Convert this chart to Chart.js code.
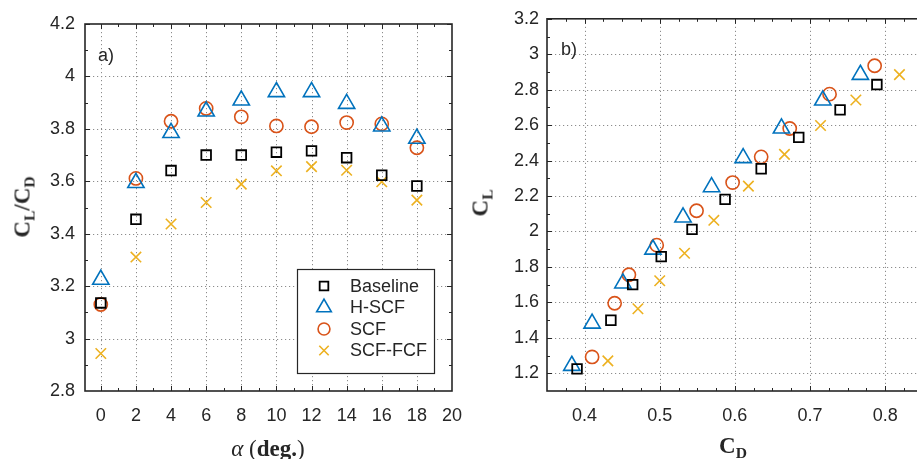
<!DOCTYPE html>
<html>
<head>
<meta charset="utf-8">
<script src="https://cdn.jsdelivr.net/npm/chart.js@4.4.0/dist/chart.umd.min.js"></script>
<style>
html, body { margin: 0; padding: 0; background: #fff; }
#wrap { position: relative; width: 917px; height: 459px; overflow: hidden; }
canvas { position: absolute; top: 0; }
#chartA { left: 0; }
#chartB { left: 470px; }
.lbl { position: absolute; transform: translate(-50%, -50%); color: #262626; white-space: nowrap;
       font-family: "Liberation Serif", "DejaVu Serif", serif; font-weight: bold; font-size: 23px; line-height: 1; }
.rot { transform: translate(-50%, -50%) rotate(-90deg); }
.sub { font-size: 68%; position: relative; top: 0.32em; }
.tag { position: absolute; font-family: "Liberation Sans", Arial, sans-serif; font-size: 18px; color: #262626; line-height: 1; }
</style>
</head>
<body>
<div id="wrap">
  <canvas id="chartA" width="480" height="459"></canvas>
  <canvas id="chartB" width="470" height="459"></canvas>
  <div class="tag" style="left:98px;top:46px">a)</div>
  <div class="tag" style="left:561px;top:40px">b)</div>
  <div class="lbl rot" style="left:22px;top:207px">C<span class="sub">L</span>/C<span class="sub">D</span></div>
  <div class="lbl" style="left:268px;top:448px"><i style="font-weight:normal">α</i> <span style="font-weight:normal">(</span>deg.<span style="font-weight:normal">)</span></div>
  <div class="lbl rot" style="left:480px;top:203px">C<span class="sub">L</span></div>
  <div class="lbl" style="left:733px;top:445px">C<span class="sub">D</span></div>
</div>
<script>
/* [ Data ] */
const ALPHA   = [0, 2, 4, 6, 8, 10, 12, 14, 16, 18];
const LD_BASE = [3.136, 3.455, 3.641, 3.700, 3.700, 3.711, 3.716, 3.690, 3.623, 3.582];
const LD_HSCF = [3.225, 3.594, 3.785, 3.867, 3.909, 3.941, 3.941, 3.896, 3.810, 3.763];
const LD_SCF  = [3.130, 3.611, 3.829, 3.878, 3.846, 3.811, 3.808, 3.824, 3.819, 3.728];
const LD_FCF  = [2.943, 3.311, 3.437, 3.519, 3.589, 3.640, 3.656, 3.642, 3.598, 3.528];

const CD_BASE = [0.390, 0.435, 0.464, 0.502, 0.543, 0.587, 0.635, 0.685, 0.740, 0.789];
const CL_BASE = [1.225, 1.499, 1.700, 1.858, 2.012, 2.181, 2.354, 2.531, 2.686, 2.829];
const CD_HSCF = [0.383, 0.410, 0.451, 0.491, 0.531, 0.569, 0.611, 0.662, 0.717, 0.767];
const CL_HSCF = [1.243, 1.481, 1.708, 1.899, 2.080, 2.251, 2.415, 2.582, 2.740, 2.885];
const CD_SCF  = [0.410, 0.440, 0.459, 0.496, 0.549, 0.597, 0.635, 0.673, 0.726, 0.786];
const CL_SCF  = [1.292, 1.595, 1.756, 1.923, 2.117, 2.276, 2.421, 2.581, 2.775, 2.935];
const CD_FCF  = [0.431, 0.471, 0.500, 0.533, 0.572, 0.618, 0.666, 0.714, 0.761, 0.819];
const CL_FCF  = [1.270, 1.564, 1.722, 1.877, 2.063, 2.256, 2.435, 2.598, 2.742, 2.885];

const SERIES = ['Baseline', 'H-SCF', 'SCF', 'SCF-FCF'];

/* [ Ticks ] */
const XTICKS_A = [0, 2, 4, 6, 8, 10, 12, 14, 16, 18, 20];
const YTICKS_A = [2.8, 3, 3.2, 3.4, 3.6, 3.8, 4, 4.2];
const XTICKS_B = [0.4, 0.5, 0.6, 0.7, 0.8];
const YTICKS_B = [1.2, 1.4, 1.6, 1.8, 2, 2.2, 2.4, 2.6, 2.8, 3, 3.2];

function range(a, b, s) {
    var out = [];
    for (var v = a; v <= b + 1e-9; v += s) out.push(Math.round(v * 1000) / 1000);
    return out;
}

const INK = '#262626';
const STYLES = [
    { color: '#000000', pointStyle: 'rect', radius: 6.8, width: 1.8 },
    { color: '#0072BD', pointStyle: 'triangle', radius: 9.4, width: 1.6 },
    { color: '#D95319', pointStyle: 'circle', radius: 6.6, width: 1.6 },
    { color: '#EDB120', pointStyle: 'crossRot', radius: 7.4, width: 1.6 }
];

function makeSets(xs, ys) {
    return SERIES.map(function (name, i) {
        var st = STYLES[i];
        return {
            label: name,
            data: xs[i].map(function (x, j) { return { x: x, y: ys[i][j] }; }),
            pointStyle: st.pointStyle,
            pointRadius: st.radius,
            pointHoverRadius: st.radius,
            pointBorderColor: st.color,
            pointBackgroundColor: 'rgba(0,0,0,0)',
            pointBorderWidth: st.width,
            showLine: false,
            clip: false
        };
    });
}

/* [ Grid, frame, inward ticks ] */
const frame = {
    id: 'frame',
    beforeDatasetsDraw(chart, args, o) {
        var ctx = chart.ctx, a = chart.chartArea;
        var xs = chart.scales.x, ys = chart.scales.y;
        ctx.save();
        // dotted grid at major ticks
        ctx.strokeStyle = '#8c8c8c';
        ctx.lineWidth = 1;
        ctx.setLineDash([1.2, 2.8]);
        ctx.beginPath();
        o.xMajor.forEach(function (v) {
            var px = Math.round(xs.getPixelForValue(v)) + 0.5;
            if (px <= a.left + 1 || px >= a.right - 1) return;
            ctx.moveTo(px, a.top); ctx.lineTo(px, a.bottom);
        });
        o.yMajor.forEach(function (v) {
            var py = Math.round(ys.getPixelForValue(v)) + 0.5;
            if (py <= a.top + 1 || py >= a.bottom - 1) return;
            ctx.moveTo(a.left, py); ctx.lineTo(a.right, py);
        });
        ctx.stroke();
        ctx.setLineDash([]);

        ctx.strokeStyle = INK;
        ctx.beginPath();
        function xt(list, len) {
            list.forEach(function (v) {
                var px = Math.round(xs.getPixelForValue(v)) + 0.5;
                if (px < a.left || px > a.right) return;
                ctx.moveTo(px, a.bottom); ctx.lineTo(px, a.bottom - len);
                ctx.moveTo(px, a.top); ctx.lineTo(px, a.top + len);
            });
        }
        function yt(list, len) {
            list.forEach(function (v) {
                var py = Math.round(ys.getPixelForValue(v)) + 0.5;
                if (py < a.top || py > a.bottom) return;
                ctx.moveTo(a.left, py); ctx.lineTo(a.left + len, py);
                ctx.moveTo(a.right, py); ctx.lineTo(a.right - len, py);
            });
        }
        xt(o.xMajor, 5); xt(o.xMinor, 3);
        yt(o.yMajor, 5); yt(o.yMinor, 3);
        ctx.stroke();
        ctx.lineWidth = 1.6;
        ctx.strokeRect(a.left, a.top, a.right - a.left, a.bottom - a.top);
        ctx.restore();
    }
};

/* [ Legend box ] */
const legendBox = {
    id: 'legendBox',
    afterDatasetsDraw(chart, args, o) {
        if (!o.show) return;
        var ctx = chart.ctx;
        ctx.save();
        ctx.fillStyle = '#fff';
        ctx.fillRect(o.x, o.y, o.w, o.h);
        ctx.strokeStyle = INK;
        ctx.lineWidth = 1.2;
        ctx.strokeRect(o.x + 0.5, o.y + 0.5, o.w, o.h);
        chart.data.datasets.forEach(function (ds, i) {
            var cy = o.y + o.first + i * o.gap;
            ctx.strokeStyle = ds.pointBorderColor;
            ctx.fillStyle = 'rgba(0,0,0,0)';
            ctx.lineWidth = ds.pointBorderWidth;
            Chart.helpers.drawPoint(ctx, {
                pointStyle: ds.pointStyle, radius: ds.pointRadius * 0.9,
                borderWidth: ds.pointBorderWidth, rotation: 0
            }, o.mx, cy);
            ctx.fillStyle = INK;
            ctx.font = '18px "Liberation Sans", Arial, sans-serif';
            ctx.textBaseline = 'middle';
            ctx.textAlign = 'left';
            ctx.fillText(ds.label, o.tx, cy + 1);
        });
        ctx.restore();
    }
};

function fmt(v) { return String(Math.round(v * 100) / 100); }

function axis(min, max, ticks, pad, fit) {
    return {
        type: 'linear',
        min: min, max: max,
        afterBuildTicks: function (s) { s.ticks = ticks.map(function (v) { return { value: v }; }); },
        afterFit: fit,
        grid: { display: false, drawTicks: false },
        border: { display: false },
        ticks: {
            padding: pad, color: INK, callback: fmt,
            font: { family: '"Liberation Sans", Arial, sans-serif', size: 18 },
            maxRotation: 0, autoSkip: false
        }
    };
}

function baseOpts(xAxis, yAxis, pad, frameOpts, legendOpts) {
    return {
        responsive: false,
        animation: false,
        events: [],
        layout: { padding: pad },
        scales: { x: xAxis, y: yAxis },
        plugins: {
            legend: { display: false },
            tooltip: { enabled: false },
            frame: frameOpts,
            legendBox: legendOpts
        }
    };
}

/* [ a) CL/CD vs alpha ] */
new Chart(document.getElementById('chartA').getContext('2d'), {
    type: 'scatter',
    data: { datasets: makeSets([ALPHA, ALPHA, ALPHA, ALPHA], [LD_BASE, LD_HSCF, LD_SCF, LD_FCF]) },
    options: baseOpts(
        axis(-0.9, 20, XTICKS_A, 14, function (s) { s.height = 68; }),
        axis(2.8, 4.2, YTICKS_A, 10, function (s) { s.width = 85; }),
        { left: 0, top: 24, right: 28, bottom: 0 },
        { xMajor: XTICKS_A, xMinor: range(1, 19, 2), yMajor: YTICKS_A, yMinor: range(2.9, 4.1, 0.2) },
        { show: true, x: 297, y: 269, w: 137, h: 104, first: 17, gap: 21.5, mx: 324, tx: 350 }
    ),
    plugins: [frame, legendBox]
});

/* [ b) CL vs CD ] */
new Chart(document.getElementById('chartB').getContext('2d'), {
    type: 'scatter',
    data: { datasets: makeSets([CD_BASE, CD_HSCF, CD_SCF, CD_FCF], [CL_BASE, CL_HSCF, CL_SCF, CL_FCF]) },
    options: baseOpts(
        axis(0.35, 0.855, XTICKS_B, 14, function (s) { s.height = 68; }),
        axis(1.1, 3.2, YTICKS_B, 8, function (s) { s.width = 77; }),
        { left: 0, top: 15, right: 13.5, bottom: 0 },
        { xMajor: XTICKS_B, xMinor: range(0.375, 0.85, 0.025), yMajor: YTICKS_B, yMinor: range(1.1, 3.1, 0.2) },
        { show: false }
    ),
    plugins: [frame, legendBox]
});
</script>
</body>
</html>
